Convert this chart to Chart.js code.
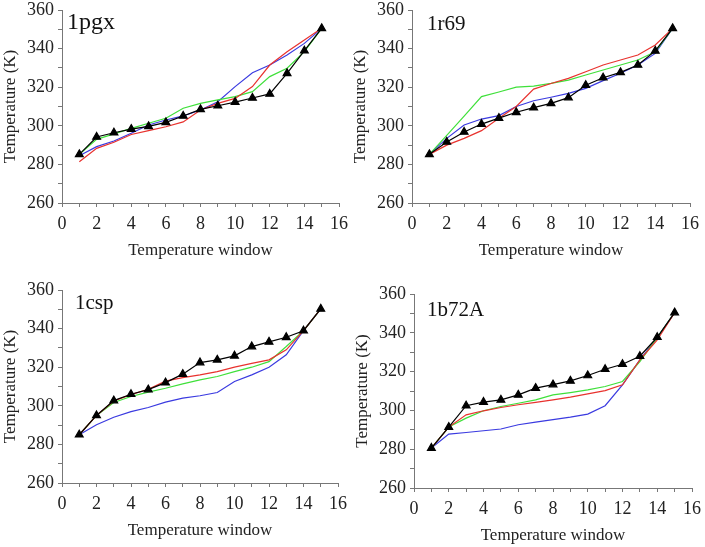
<!DOCTYPE html>
<html>
<head>
<meta charset="utf-8">
<script src="https://cdn.jsdelivr.net/npm/chart.js@4"></script>
<style>
  body { margin: 0; background: #fff; }
  #wrap { position: relative; width: 705px; height: 547px; }
  canvas { position: absolute; }
</style>
</head>
<body>
<div id="wrap">
  <canvas id="c1" width="352" height="270" style="left:0;top:0"></canvas>
  <canvas id="c2" width="355" height="270" style="left:350px;top:0"></canvas>
  <canvas id="c3" width="352" height="267" style="left:0;top:280px"></canvas>
  <canvas id="c4" width="353" height="263" style="left:352px;top:284px"></canvas>
</div>
<script>
// temperature windows 1..15
const windows = [1, 2, 3, 4, 5, 6, 7, 8, 9, 10, 11, 12, 13, 14, 15];
const xTicks = [0, 2, 4, 6, 8, 10, 12, 14, 16];
const yTicks = [260, 280, 300, 320, 340, 360];

// 1pgx
const pgxBlack = [285.2, 294.2, 296.4, 298.3, 299.7, 301.8, 305.1, 308.5, 310.4, 312.3, 314.4, 316.5, 327.2, 338.9, 350.5];
const pgxRed   = [281.4, 288.3, 291.5, 295.5, 297.5, 299.5, 302.0, 308.2, 311.6, 314.2, 320.3, 331.5, 338.4, 344.5, 350.5];
const pgxGreen = [285.2, 293.0, 295.8, 298.7, 301.3, 303.9, 309.1, 311.6, 313.4, 315.1, 317.7, 325.5, 329.8, 338.4, 350.5];
const pgxBlue  = [284.5, 289.2, 292.1, 296.1, 300.4, 303.0, 305.1, 308.2, 312.5, 320.3, 327.5, 331.5, 336.7, 342.7, 350.5];

// 1r69
const r69Black = [285.2, 291.6, 296.8, 300.9, 304.0, 307.0, 309.4, 311.6, 314.6, 321.0, 324.9, 327.7, 331.5, 338.8, 350.5];
const r69Red   = [285.2, 290.0, 293.5, 297.5, 303.9, 310.0, 319.0, 321.9, 324.6, 328.0, 331.5, 334.1, 336.7, 341.9, 350.5];
const r69Green = [285.2, 295.0, 305.0, 315.1, 317.5, 320.0, 320.6, 322.0, 323.7, 326.3, 328.9, 331.5, 334.1, 338.4, 350.5];
const r69Blue  = [285.2, 293.5, 300.4, 303.5, 305.3, 310.0, 313.0, 314.8, 316.8, 319.4, 323.4, 327.2, 331.5, 337.5, 350.5];

// 1csp
const cspBlack = [285.0, 295.0, 302.7, 306.0, 308.4, 312.0, 316.4, 322.4, 323.8, 325.9, 330.7, 333.1, 335.5, 338.9, 350.2];
const cspRed   = [285.0, 295.0, 302.5, 305.8, 308.6, 312.8, 314.6, 316.0, 317.7, 320.0, 322.0, 323.8, 329.0, 338.9, 350.2];
const cspGreen = [285.0, 295.0, 301.7, 304.8, 307.1, 309.1, 311.4, 313.4, 315.2, 317.7, 320.0, 322.9, 330.7, 338.9, 350.2];
const cspBlue  = [285.0, 290.2, 294.1, 297.0, 299.1, 301.9, 304.0, 305.2, 306.9, 312.6, 316.0, 320.0, 326.4, 338.9, 350.2];

// 1b72A
const b72Black = [280.6, 291.4, 302.4, 304.3, 305.4, 308.0, 311.5, 313.3, 315.2, 318.0, 321.2, 323.8, 327.9, 337.7, 350.4];
const b72Red   = [280.6, 291.4, 297.7, 299.8, 301.5, 302.9, 304.1, 305.4, 306.8, 308.5, 310.2, 313.2, 326.0, 336.3, 350.4];
const b72Green = [280.6, 291.4, 296.0, 299.8, 302.0, 303.7, 305.4, 308.0, 309.2, 310.6, 312.3, 314.9, 325.2, 337.5, 350.4];
const b72Blue  = [280.6, 287.8, 288.6, 289.5, 290.4, 292.6, 294.0, 295.2, 296.5, 298.1, 302.4, 313.2, 326.0, 337.5, 350.4];

Chart.defaults.font.family = '"Liberation Serif", "Times New Roman", serif';
Chart.defaults.color = '#222';

const panelLabel = {
  id: 'panelLabel',
  afterDraw(chart, args, opts) {
    const { ctx, chartArea } = chart;
    ctx.save();
    ctx.font = opts.size + 'px "Liberation Serif", serif';
    ctx.fillStyle = '#111';
    ctx.textBaseline = 'alphabetic';
    ctx.fillText(opts.text, chartArea.left + opts.dx, chartArea.top + opts.dy);
    ctx.restore();
  }
};

function pts(vals) {
  return vals.map((v, i) => ({ x: windows[i], y: v }));
}

function makeChart(id, name, black, red, green, blue, p) {
  const line = (data, color) => ({
    data: pts(data), borderColor: color, borderWidth: 1.2,
    pointRadius: 0, tension: 0, fill: false
  });
  return new Chart(document.getElementById(id), {
    type: 'line',
    data: {
      datasets: [
        {
          data: pts(black), borderColor: '#000', borderWidth: 1.2,
          pointStyle: 'triangle', pointRadius: 4.5,
          pointBackgroundColor: '#000', pointBorderColor: '#000', tension: 0
        },
        line(red, '#e8322e'),
        line(green, '#3fe03a'),
        line(blue, '#3a3ae0')
      ]
    },
    options: {
      responsive: false,
      animation: false,
      devicePixelRatio: 1,
      layout: { padding: { top: 10, right: p.right, left: 0, bottom: 0 } },
      plugins: {
        legend: { display: false },
        tooltip: { enabled: false },
        panelLabel: { text: name, dx: p.dx, dy: p.dy, size: p.fs }
      },
      scales: {
        x: {
          type: 'linear', min: 0, max: 16,
          afterBuildTicks: s => { s.ticks = windows.concat([0, 16]).sort((a, b) => a - b).map(v => ({ value: v })); },
          ticks: {
            autoSkip: false, maxRotation: 0, padding: 6,
            font: { size: 18 },
            callback: v => xTicks.includes(v) ? String(v) : ''
          },
          grid: { drawOnChartArea: false, drawTicks: true, tickLength: 4, color: '#777' },
          border: { display: true, color: '#777', width: 1 },
          title: { display: true, text: 'Temperature window', font: { size: 17 }, padding: { top: 0, bottom: p.tb } },
          afterFit: s => { s.height = p.xh; s.paddingLeft = 0; s.paddingRight = 0; }
        },
        y: {
          min: 260, max: 360,
          ticks: {
            stepSize: 10, autoSkip: false, padding: 4,
            font: { size: 18 },
            callback: v => yTicks.includes(v) ? String(v) : ''
          },
          grid: { drawOnChartArea: false, drawTicks: true, tickLength: 4, color: '#777' },
          border: { display: true, color: '#777', width: 1 },
          title: { display: true, text: 'Temperature (K)', font: { size: 17 }, padding: { top: 0, bottom: 0 } },
          afterFit: s => { s.width = 62; s.paddingTop = 0; s.paddingBottom = 0; }
        }
      }
    },
    plugins: [panelLabel]
  });
}

makeChart('c1', '1pgx', pgxBlack, pgxRed, pgxGreen, pgxBlue, { right: 13, xh: 67, tb: 9, dx: 5, dy: 19, fs: 24 });
makeChart('c2', '1r69', r69Black, r69Red, r69Green, r69Blue, { right: 15, xh: 67, tb: 9, dx: 15, dy: 20, fs: 21 });
makeChart('c3', '1csp', cspBlack, cspRed, cspGreen, cspBlue, { right: 14, xh: 64, tb: 6, dx: 13, dy: 19, fs: 21 });
makeChart('c4', '1b72A', b72Black, b72Red, b72Green, b72Blue, { right: 13, xh: 59, tb: 1, dx: 13, dy: 22, fs: 21 });
</script>
</body>
</html>
